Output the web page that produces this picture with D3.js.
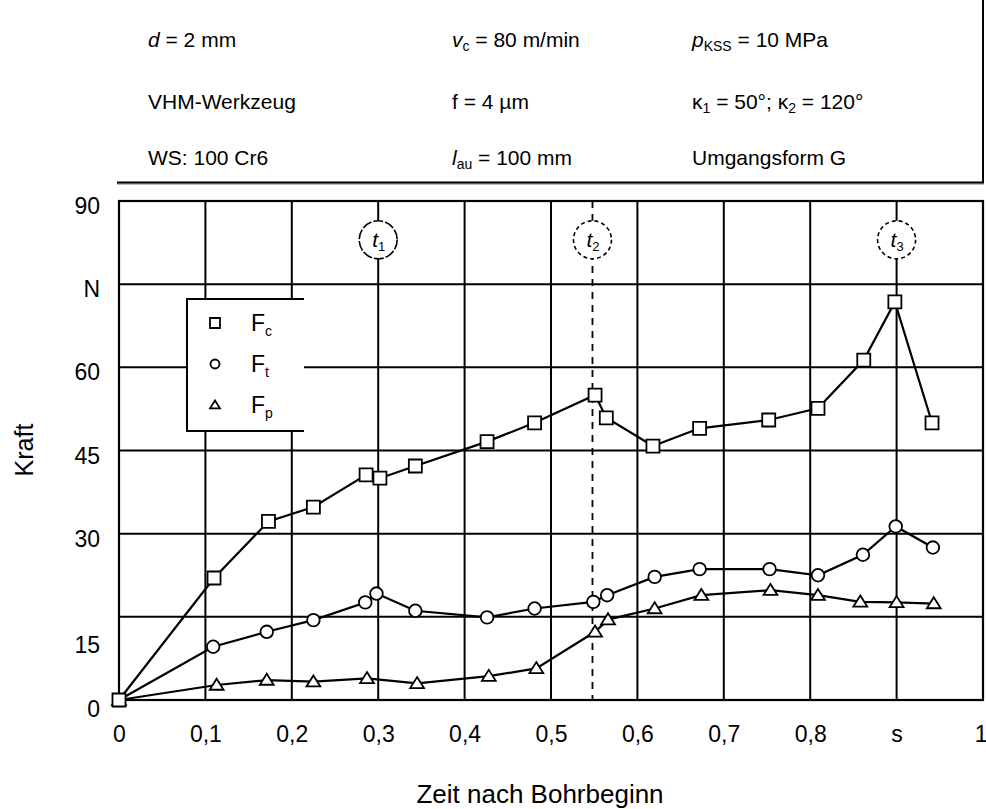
<!DOCTYPE html>
<html><head><meta charset="utf-8">
<script src="https://cdn.jsdelivr.net/npm/d3@7"></script>
<style>
html,body{margin:0;padding:0;background:#fff;}
text{font-family:"Liberation Sans",Arial,Helvetica,sans-serif;fill:#000;}
</style></head>
<body><svg id="c" width="986" height="809"></svg>
<script>
// ---- data ----
const xTickVals = [0,0.1,0.2,0.3,0.4,0.5,0.6,0.7,0.8,0.9,1];
const xTickLabels = ["0","0,1","0,2","0,3","0,4","0,5","0,6","0,7","0,8","s","1"];
const yTickVals = [0,15,30,45,60,75,90];
const yTickLabels = ["0","15","30","45","60","N","90"];

const fcX = [0,0.110,0.173,0.225,0.286,0.302,0.343,0.426,0.481,0.551,0.564,0.618,0.672,0.752,0.809,0.862,0.898,0.941];
const fcY = [0,22.0,32.2,34.8,40.6,40.0,42.2,46.6,50.0,55.0,50.9,45.8,49.0,50.5,52.6,61.3,71.8,50.0];
const ftX = [0,0.109,0.171,0.225,0.285,0.298,0.343,0.426,0.481,0.549,0.565,0.620,0.672,0.753,0.809,0.861,0.899,0.942];
const ftY = [0,9.6,12.3,14.4,17.6,19.2,16.1,14.9,16.5,17.7,18.9,22.2,23.6,23.6,22.5,26.2,31.3,27.5];
const fpX = [0,0.113,0.171,0.225,0.287,0.345,0.428,0.483,0.551,0.566,0.620,0.674,0.754,0.809,0.858,0.900,0.943];
const fpY = [0,2.7,3.6,3.3,3.9,3.0,4.3,5.7,12.3,14.5,16.5,18.9,19.8,18.9,17.7,17.6,17.4];

const markerNames = ["c","t","p"];
const timeMarkX = [0.3,0.548,0.9];
const timeMarkSub = ["1","2","3"];
const timeMarkY = 83;
const dashedX = 0.548;

const headerRows = [
  [ [["d","i"],[" = 2 mm",""]], [["v","i"],["c","s"],[" = 80 m/min",""]], [["p","i"],["KSS","s"],[" = 10 MPa",""]] ],
  [ [["VHM-Werkzeug",""]], [["f = 4 µm",""]], [["κ",""],["1","s"],[" = 50°; κ",""],["2","s"],[" = 120°",""]] ],
  [ [["WS: 100 Cr6",""]], [["l","i"],["au","s"],[" = 100 mm",""]], [["Umgangsform G",""]] ]
];

// ---- chart ----
const svg = d3.select("#c");
const x = d3.scaleLinear().domain([0,1]).range([119,983]);
const y = d3.scaleLinear().domain([0,90]).range([700,201]);

// header
const hx = [148,452,692], hy = [47,109,165];
headerRows.forEach((row,ri)=>{
  row.forEach((cell,ci)=>{
    const t = svg.append("text").attr("x",hx[ci]).attr("y",hy[ri]).style("font-size","21px");
    cell.forEach(([s,st])=>{
      const ts = t.append("tspan").text(s);
      if(st==="i") ts.style("font-style","italic");
      if(st==="s") ts.attr("baseline-shift","-30%").style("font-size","14px");
    });
  });
});
svg.append("line").attr("x1",117).attr("x2",984).attr("y1",184).attr("y2",184).attr("stroke","#bbb").attr("stroke-width",2);
svg.append("line").attr("x1",117).attr("x2",984).attr("y1",182.5).attr("y2",182.5).attr("stroke","#000").attr("stroke-width",2);
svg.append("line").attr("x1",983).attr("x2",983).attr("y1",0).attr("y2",183).attr("stroke","#000").attr("stroke-width",2);

// grid
const g = svg.append("g");
g.selectAll("line.v").data(xTickVals.slice(1,-1)).enter().append("line")
  .attr("x1",d=>x(d)).attr("x2",d=>x(d)).attr("y1",y(90)).attr("y2",y(0))
  .attr("stroke","#000").attr("stroke-width",2);
g.selectAll("line.h").data(yTickVals.slice(1,-1)).enter().append("line")
  .attr("x1",x(0)).attr("x2",x(1)).attr("y1",d=>y(d)).attr("y2",d=>y(d))
  .attr("stroke","#000").attr("stroke-width",2);
g.append("rect").attr("x",x(0)).attr("y",y(90)).attr("width",x(1)-x(0)).attr("height",y(0)-y(90))
  .attr("fill","none").attr("stroke","#000").attr("stroke-width",2.2);

// dashed line
svg.append("line").attr("x1",x(dashedX)).attr("x2",x(dashedX)).attr("y1",y(90)).attr("y2",y(0))
  .attr("stroke","#000").attr("stroke-width",1.8).attr("stroke-dasharray","7,6");

// axes
const ya = svg.append("g").attr("transform",`translate(${x(0)},0)`)
  .call(d3.axisLeft(y).tickValues(yTickVals).tickFormat((d,i)=>yTickLabels[i]).tickSize(0).tickPadding(19));
ya.select(".domain").remove();
ya.selectAll("text").style("font-size","23px").style("font-family","Liberation Sans, Arial, sans-serif")
  .attr("dy",d=> d===15 ? "1.55em" : d===0 ? "0.72em" : "0.55em");
const xa = svg.append("g").attr("transform",`translate(0,${y(0)})`)
  .call(d3.axisBottom(x).tickValues(xTickVals).tickFormat((d,i)=>xTickLabels[i]).tickSize(0).tickPadding(26));
xa.select(".domain").remove();
xa.selectAll("text").style("font-size","23px").style("font-family","Liberation Sans, Arial, sans-serif");
xa.selectAll(".tick").filter((d,i)=>i===xTickVals.length-1).select("text").attr("text-anchor","end").attr("dx","4");

svg.append("text").attr("transform","translate(33,450) rotate(-90)").attr("text-anchor","middle")
  .style("font-size","25px").text("Kraft");
svg.append("text").attr("x",540).attr("y",803).attr("text-anchor","middle")
  .style("font-size","26px").text("Zeit nach Bohrbeginn");

// legend box
const lg = svg.append("g");
lg.append("rect").attr("x",187).attr("y",299).attr("width",117).attr("height",132).attr("fill","#fff");
lg.append("path").attr("d","M304,299 H187 V431 H304").attr("fill","none").attr("stroke","#000").attr("stroke-width",2);

// markers
const sq = s=>`M${-s},${-s}H${s}V${s}H${-s}Z`;
const tri = s=>`M0,${-s}L${s*1.1},${s*0.75}L${-s*1.1},${s*0.75}Z`;
function drawMarker(sel,type,size){
  if(type==="c") return sel.append("path").attr("d",sq(size));
  if(type==="t") return sel.append("circle").attr("r",size);
  return sel.append("path").attr("d",tri(size));
}

// lines & points
const series = [
  {xs:fcX, ys:fcY, type:"c", size:6.5},
  {xs:ftX, ys:ftY, type:"t", size:6.3},
  {xs:fpX, ys:fpY, type:"p", size:6.3}
];
const line = d3.line().x(d=>x(d[0])).y(d=>y(d[1]));
series.slice().reverse().forEach(s=>{
  const pts = s.xs.map((v,i)=>[v,s.ys[i]]);
  svg.append("path").datum(pts).attr("d",line).attr("fill","none").attr("stroke","#000").attr("stroke-width",2.2);
});
series.slice().reverse().forEach(s=>{
  const pts = s.xs.map((v,i)=>[v,s.ys[i]]);
  const gg = svg.append("g");
  pts.forEach(p=>{
    const m = gg.append("g").attr("transform",`translate(${x(p[0])},${y(p[1])})`);
    drawMarker(m,s.type,s.size).attr("fill","#fff").attr("stroke","#000").attr("stroke-width",1.8);
  });
});

// legend entries
markerNames.forEach((n,i)=>{
  const cy = 323 + i*41;
  const m = lg.append("g").attr("transform",`translate(215,${cy})`);
  drawMarker(m,n,n==="c"?5:4.5).attr("fill","#fff").attr("stroke","#000").attr("stroke-width",1.8);
  const t = lg.append("text").attr("x",251).attr("y",cy+8).style("font-size","23px");
  t.append("tspan").text("F");
  t.append("tspan").attr("baseline-shift","-35%").style("font-size","14px").text(n);
});

// time marks
timeMarkX.forEach((tx,i)=>{
  const gx = svg.append("g").attr("transform",`translate(${x(tx)},${y(timeMarkY)})`);
  gx.append("circle").attr("r",19).attr("fill","#fff").attr("stroke","#000").attr("stroke-width",1.6)
    .attr("stroke-dasharray", i===0 ? "10,2" : "4,3");
  const t = gx.append("text").attr("x",-6).attr("y",7).style("font-size","21px").style("font-style","italic");
  t.append("tspan").text("t");
  t.append("tspan").attr("baseline-shift","-30%").style("font-size","13px").style("font-style","normal").text(timeMarkSub[i]);
});
</script></body></html>
